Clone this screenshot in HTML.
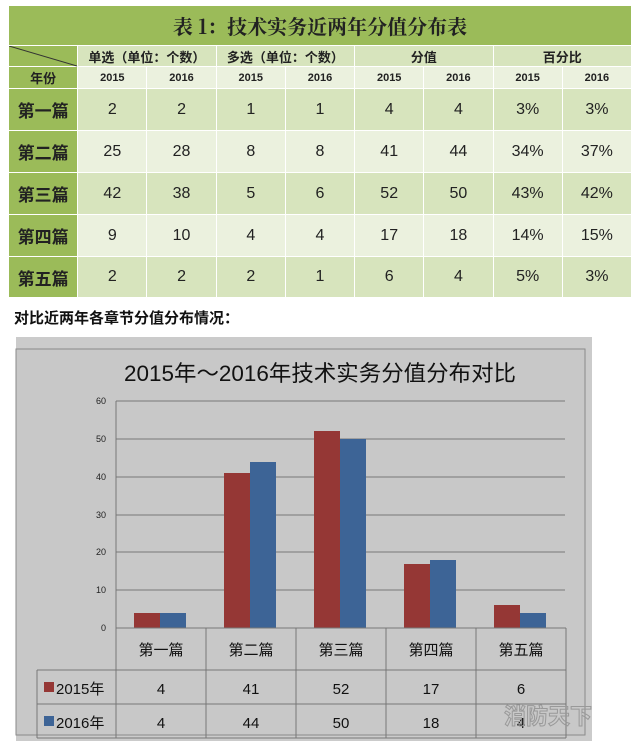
<html><head><style>
body{margin:0;background:#fff;width:640px;height:745px;position:relative;overflow:hidden;font-family:"Liberation Sans","Noto Sans CJK SC",sans-serif}
table.t{position:absolute;left:8px;top:5px;border-collapse:collapse;width:624px;table-layout:fixed}
.t td{border:1px solid #fff;text-align:center;padding:0;color:#222}
.t tr.r0 td{height:39px}
.t tr.r1 td{height:20px}
.t tr.r2 td{height:21px}
.t tr.m td,.t tr.n td{height:41px}
.h{background:#9bbb59;font-weight:bold;font-size:20px;font-family:"Noto Serif CJK SC",serif}
.l{background:#9bbb59;font-weight:bold;font-size:17px}
.g1{background:#d7e4bd;font-weight:bold;font-size:13px}
.g2{background:#ebf1de;font-weight:bold;font-size:11px}
.m td.d{background:#d7e4bd;font-size:16px}
.n td.d{background:#ebf1de;font-size:16px}
</style></head><body>
<table class="t">
<tr class="r0"><td class="h" colspan="9" style="height:40px">表 1：技术实务近两年分值分布表</td></tr>
<tr class="r1"><td class="l" style="width:66px;height:21px;position:relative;background:#9bbb59"><svg style="position:absolute;left:0;top:0" width="68" height="22"><line x1="0" y1="0" x2="68" y2="20" stroke="#333" stroke-width="1"/></svg></td><td class="g1" colspan="2" style="height:21px">单选（单位：个数）</td><td class="g1" colspan="2">多选（单位：个数）</td><td class="g1" colspan="2">分值</td><td class="g1" colspan="2">百分比</td></tr>
<tr class="r2"><td class="l" style="font-size:13px;height:22px">年份</td><td class="g2">2015</td><td class="g2">2016</td><td class="g2">2015</td><td class="g2">2016</td><td class="g2">2015</td><td class="g2">2016</td><td class="g2">2015</td><td class="g2">2016</td></tr>
<tr class="m"><td class="l" style="height:42px">第一篇</td><td class="d">2</td><td class="d">2</td><td class="d">1</td><td class="d">1</td><td class="d">4</td><td class="d">4</td><td class="d">3%</td><td class="d">3%</td></tr>
<tr class="n"><td class="l" style="height:42px">第二篇</td><td class="d">25</td><td class="d">28</td><td class="d">8</td><td class="d">8</td><td class="d">41</td><td class="d">44</td><td class="d">34%</td><td class="d">37%</td></tr>
<tr class="m"><td class="l" style="height:42px">第三篇</td><td class="d">42</td><td class="d">38</td><td class="d">5</td><td class="d">6</td><td class="d">52</td><td class="d">50</td><td class="d">43%</td><td class="d">42%</td></tr>
<tr class="n"><td class="l" style="height:42px">第四篇</td><td class="d">9</td><td class="d">10</td><td class="d">4</td><td class="d">4</td><td class="d">17</td><td class="d">18</td><td class="d">14%</td><td class="d">15%</td></tr>
<tr class="m"><td class="l" style="height:41px">第五篇</td><td class="d">2</td><td class="d">2</td><td class="d">2</td><td class="d">1</td><td class="d">6</td><td class="d">4</td><td class="d">5%</td><td class="d">3%</td></tr>
</table>
<div style="position:absolute;left:14px;top:307px;font-size:15px;font-weight:bold;color:#111">对比近两年各章节分值分布情况：</div>
<svg style="position:absolute;left:0;top:0" width="640" height="745" font-family="Liberation Sans, Noto Sans CJK SC, sans-serif">
<rect x="16" y="337" width="576" height="404" fill="#cbcbcb"/>
<rect x="16" y="349" width="569" height="386" fill="#c8c8c8" stroke="#8a8a8a" stroke-width="1"/>
<text x="320" y="381" font-size="22" text-anchor="middle" fill="#111" textLength="392" lengthAdjust="spacingAndGlyphs">2015年～2016年技术实务分值分布对比</text>
<g stroke="#777" stroke-width="1">
<line x1="116" y1="401" x2="565" y2="401"/><line x1="116" y1="439" x2="565" y2="439"/><line x1="116" y1="477" x2="565" y2="477"/><line x1="116" y1="515" x2="565" y2="515"/><line x1="116" y1="552" x2="565" y2="552"/><line x1="116" y1="590" x2="565" y2="590"/>
<line x1="116" y1="401" x2="116" y2="628"/>
</g>
<g font-size="9" text-anchor="end" fill="#222"><text x="106" y="404">60</text><text x="106" y="442">50</text><text x="106" y="480">40</text><text x="106" y="518">30</text><text x="106" y="555">20</text><text x="106" y="593">10</text><text x="106" y="631">0</text></g>
<g fill="#953735">
<rect x="134" y="613" width="26" height="15"/><rect x="224" y="473" width="26" height="155"/><rect x="314" y="431" width="26" height="197"/><rect x="404" y="564" width="26" height="64"/><rect x="494" y="605" width="26" height="23"/></g>
<g fill="#3d6496">
<rect x="160" y="613" width="26" height="15"/><rect x="250" y="462" width="26" height="166"/><rect x="340" y="439" width="26" height="189"/><rect x="430" y="560" width="26" height="68"/><rect x="520" y="613" width="26" height="15"/></g>
<g stroke="#777" stroke-width="1" fill="none">
<line x1="116" y1="628" x2="566" y2="628"/><line x1="37" y1="670" x2="566" y2="670"/><line x1="37" y1="704" x2="566" y2="704"/><line x1="37" y1="738" x2="566" y2="738"/>
<line x1="37" y1="670" x2="37" y2="738"/><line x1="116" y1="628" x2="116" y2="738"/><line x1="206" y1="628" x2="206" y2="738"/><line x1="296" y1="628" x2="296" y2="738"/><line x1="386" y1="628" x2="386" y2="738"/><line x1="476" y1="628" x2="476" y2="738"/><line x1="566" y1="628" x2="566" y2="738"/>
</g>
<g font-size="15" text-anchor="middle" fill="#111">
<text x="161" y="655">第一篇</text><text x="251" y="655">第二篇</text><text x="341" y="655">第三篇</text><text x="431" y="655">第四篇</text><text x="521" y="655">第五篇</text>
<text x="161" y="694">4</text><text x="251" y="694">41</text><text x="341" y="694">52</text><text x="431" y="694">17</text><text x="521" y="694">6</text>
<text x="161" y="728">4</text><text x="251" y="728">44</text><text x="341" y="728">50</text><text x="431" y="728">18</text><text x="521" y="728">4</text>
</g>
<rect x="44" y="682" width="10" height="10" fill="#953735"/><rect x="44" y="716" width="10" height="10" fill="#3d6496"/>
<text x="56" y="694" font-size="15" fill="#111">2015年</text><text x="56" y="728" font-size="15" fill="#111">2016年</text>
<text x="548" y="724" font-size="22" text-anchor="middle" fill="none" stroke="#999" stroke-width="1" font-weight="bold">消防天下</text>
</svg>
</body></html>
